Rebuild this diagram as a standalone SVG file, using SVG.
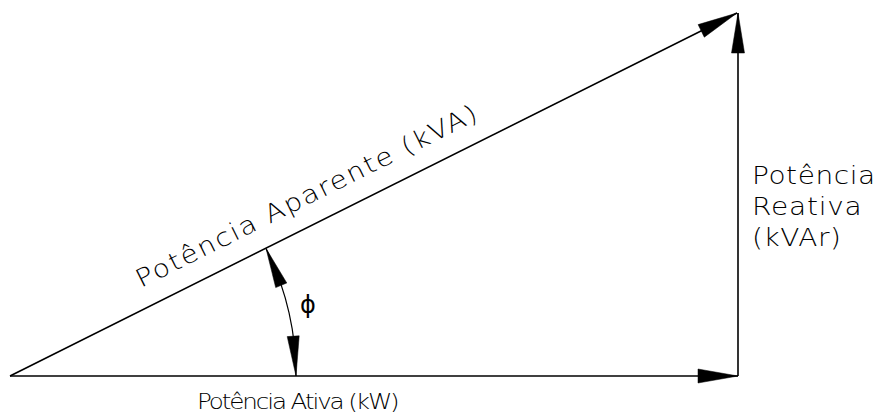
<svg xmlns="http://www.w3.org/2000/svg" width="877" height="416" viewBox="0 0 877 416">
<style>
.ln{stroke:#000;stroke-width:1.6;fill:none}
.ah{fill:#000;stroke:#000;stroke-width:0.5}
.t{font-family:"DejaVu Sans","Liberation Sans",sans-serif;font-weight:200;fill:#000}
</style>
<rect width="877" height="416" fill="#fff"/>
<g id="connectors">
<line class="ln" x1="10" y1="376" x2="738" y2="376"/>
<line class="ln" x1="738" y1="376" x2="738" y2="13"/>
<line class="ln" x1="10" y1="376" x2="737" y2="13"/>
<path class="ln" d="M296,376 A286,286 0 0 0 266,248.4" style="stroke-width:1.2"/>
<polygon class="ah" points="738,376 698,369 698,383"/>
<polygon class="ah" points="738,13 731.5,53 744.5,53"/>
<polygon class="ah" points="737,13 704.3,37.2 698.1,24.6"/>
<polygon class="ah" points="266,248.4 286.8,283 275.7,287.6"/>
<polygon class="ah" points="296,376 299.2,335.8 287.2,336.6"/>
</g>
<g id="apparent">
<text class="t" font-size="25" transform="translate(141,288) rotate(-26.5) scale(1.12,1)" textLength="337.5" lengthAdjust="spacing">Potência Aparente (kVA)</text>
</g>
<g id="active">
<text class="t" font-size="22" transform="translate(197,409) scale(1.12,1)" textLength="181" lengthAdjust="spacing">Potência Ativa (kW)</text>
</g>
<g id="reactive">
<text class="t" font-size="25" transform="translate(752,184) scale(1.12,1)" textLength="110" lengthAdjust="spacing">Potência</text>
<text class="t" font-size="25" transform="translate(752,215) scale(1.12,1)" textLength="98" lengthAdjust="spacing">Reativa</text>
<text class="t" font-size="25" transform="translate(752,246) scale(1.12,1)" textLength="79.5" lengthAdjust="spacing">(kVAr)</text>
</g>
<g id="phi">
<text class="t" x="308" y="313" font-size="24" text-anchor="middle" style="font-weight:normal">ϕ</text>
</g>
</svg>
